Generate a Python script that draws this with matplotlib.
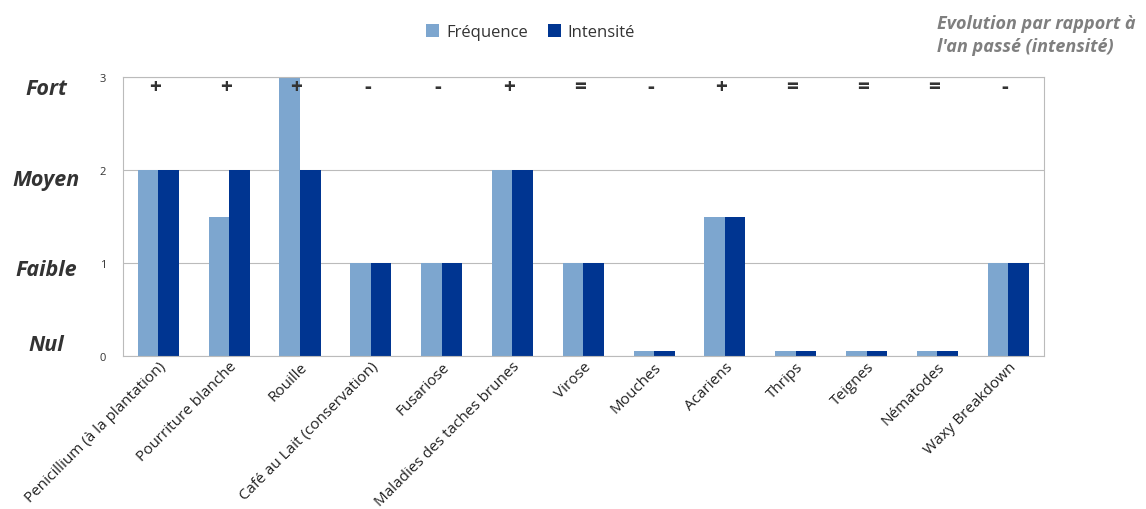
import numpy as np
from matplotlib import pyplot as plt

# Maladies / ravageurs suivis
categories = ['Penicillium (à la plantation)', 'Pourriture blanche', 'Rouille',
              'Café au Lait (conservation)', 'Fusariose', 'Maladies des taches brunes',
              'Virose', 'Mouches', 'Acariens', 'Thrips', 'Teignes', 'Nématodes',
              'Waxy Breakdown']
frequence = [2, 1.5, 3, 1, 1, 2, 1, 0.05, 1.5, 0.05, 0.05, 0.05, 1]
intensite = [2, 2, 2, 1, 1, 2, 1, 0.05, 1.5, 0.05, 0.05, 0.05, 1]
evolution = ['+', '+', '+', '-', '-', '+', '=', '-', '+', '=', '=', '=', '-']
niveaux = ['Nul', 'Faible', 'Moyen', 'Fort']

plt.rcParams['font.family'] = ['Open Sans', 'DejaVu Sans']

fig = plt.figure(figsize=(11.46, 5.10), dpi=100)
ax = fig.add_axes([0.1073, 0.30, 0.8033, 0.547])

x = np.arange(len(categories))
w = 0.29
ax.bar(x - w / 2, frequence, w, color='#7DA6CF', label='Fréquence')
ax.bar(x + w / 2, intensite, w, color='#003591', label='Intensité')

ax.set_xlim(-0.5, len(categories) - 0.5)
ax.set_ylim(0, 3)
ax.set_yticks([0, 1, 2, 3])
ax.tick_params(axis='y', length=0, labelsize=8, pad=12, labelcolor='#333333')
ax.tick_params(axis='x', length=0, pad=2)
ax.set_xticks(x)
ax.set_xticklabels(categories, rotation=45, ha='right', rotation_mode='anchor',
                   fontsize=11, color='#222222')
ax.yaxis.grid(True, color='#BBBBBB', linewidth=0.8)
ax.set_axisbelow(True)
for s in ax.spines.values():
    s.set_color('#BBBBBB')
    s.set_linewidth(0.8)

# niveaux qualitatifs a gauche de l'axe, un peu resserres vers le centre
niv_y = [0.12, 0.935, 1.9, 2.88]
for yy, n in zip(niv_y, niveaux):
    ax.text(-0.083, yy, n, transform=ax.get_yaxis_transform(),
            ha='center', va='center', fontsize=15.5, fontweight='bold',
            fontstyle='italic', color='#333333')

# evolution par rapport a l'an passe
for xi, e in zip(x, evolution):
    ax.text(xi - 0.05, 2.9, e, ha='center', va='center', fontsize=15,
            fontweight='bold', color='#333333')

fig.text(0.8176, 0.93, "Evolution par rapport à\nl'an passé (intensité)", ha='left',
         va='center', fontsize=13, fontweight='bold', fontstyle='italic',
         color='#7F7F7F', linespacing=1.4)

fig.legend(loc='center', bbox_to_anchor=(0.463, 0.935), ncol=2, frameon=False,
           fontsize=12, handlelength=0.8, handleheight=0.8, handletextpad=0.4,
           columnspacing=1.2, labelcolor='#333333')

fig.savefig('out.png', dpi=100)
